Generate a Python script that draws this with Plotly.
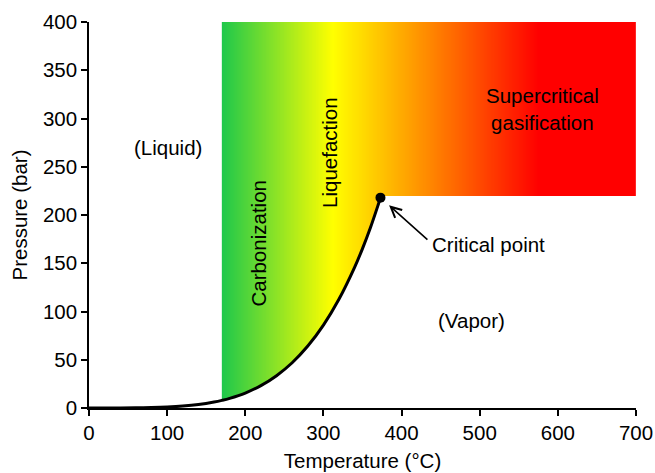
import numpy as np
import plotly.graph_objects as go

# Saturation (vapour-pressure) curve of water
curve_T = [0, 20, 40, 60, 80, 100, 120, 140, 160, 170, 180, 200, 220, 240,
           260, 280, 300, 320, 340, 350, 360, 370, 373]
curve_P = [0.006, 0.023, 0.074, 0.2, 0.47, 1.01, 1.99, 3.61, 6.18, 7.9, 10.0,
           15.5, 23.2, 33.5, 46.9, 64.2, 85.9, 112.9, 146.0, 165.2, 186.5,
           210.4, 218.0]

# Process region (gradient) limits
region_T_min = 170
region_T_max = 700
region_P_max = 400
critical_T = 373
critical_P = 218.0
supercrit_P_floor = 220

# Gradient colour stops (temperature -> colour)
grad_T = [170, 312, 576, 700]
grad_colors = ["rgb(30,200,75)", "rgb(255,255,0)", "rgb(255,0,0)", "rgb(255,0,0)"]

x_ticks = [0, 100, 200, 300, 400, 500, 600, 700]
y_ticks = [0, 50, 100, 150, 200, 250, 300, 350, 400]

FONT = "Liberation Sans, Arial, sans-serif"
FS = 20.5

# Build gradient field masked by the region boundary
X = np.arange(region_T_min + 0.5, region_T_max, 1.0)
Y = np.arange(0.5, region_P_max, 1.0)
boundary = np.where(X < critical_T, np.interp(X, curve_T, curve_P), supercrit_P_floor)
mask = Y[:, None] >= boundary[None, :]
Z = np.where(mask, np.broadcast_to(X[None, :], mask.shape), np.nan)

span = region_T_max - region_T_min
colorscale = [[(t - region_T_min) / span, c] for t, c in zip(grad_T, grad_colors)]

fig = go.Figure()
fig.add_trace(go.Heatmap(
    x=X, y=Y, z=Z, zmin=region_T_min, zmax=region_T_max,
    colorscale=colorscale, showscale=False, hoverinfo="skip", zsmooth=False,
))
fig.add_trace(go.Scatter(
    x=curve_T, y=curve_P, mode="lines",
    line=dict(color="black", width=3, shape="spline"), hoverinfo="skip",
))
fig.add_trace(go.Scatter(
    x=[critical_T], y=[critical_P], mode="markers",
    marker=dict(color="black", size=10), hoverinfo="skip",
))

ann_font = dict(family=FONT, size=FS, color="black")
annotations = [
    dict(x=101, y=270, text="(Liquid)", showarrow=False, font=ann_font),
    dict(x=217, y=171, text="Carbonization", showarrow=False, textangle=-90, font=ann_font),
    dict(x=308, y=265, text="Liquefaction", showarrow=False, textangle=-90, font=ann_font),
    dict(x=580, y=310, text="Supercritical<br>gasification", showarrow=False, font=ann_font),
    dict(x=489, y=91, text="(Vapor)", showarrow=False, font=ann_font),
    dict(x=436, y=169, text="Critical point", showarrow=False, xanchor="left", font=ann_font),
    dict(x=384, y=210, ax=435, ay=173, xref="x", yref="y", axref="x", ayref="y",
         text="", showarrow=True, arrowhead=5, arrowsize=1.3, arrowwidth=1.6,
         arrowcolor="black", standoff=0),
]

axis_common = dict(
    showline=True, linecolor="black", linewidth=1.5, ticks="outside", ticklen=6,
    tickcolor="black", tickwidth=1.5, showgrid=False, zeroline=False,
    automargin=False,
    tickfont=dict(family=FONT, size=FS, color="black"),
)
fig.update_layout(
    width=655, height=473,
    margin=dict(l=89, r=19, t=22, b=65),
    paper_bgcolor="white", plot_bgcolor="white",
    showlegend=False,
    annotations=annotations,
    xaxis=dict(range=[0, 700], tickvals=x_ticks,
               title=dict(text="Temperature (°C)", font=dict(family=FONT, size=FS, color="black"), standoff=10),
               **axis_common),
    yaxis=dict(range=[0, 400], tickvals=y_ticks,
               title=dict(text="Pressure (bar)", font=dict(family=FONT, size=FS, color="black"), standoff=10),
               **axis_common),
)

fig.write_html("out.html")
